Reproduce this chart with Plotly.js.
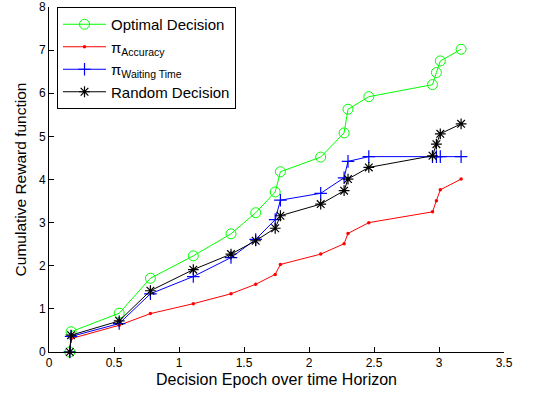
<!DOCTYPE html>
<html>
<head>
<meta charset="utf-8">
<script src="https://cdn.plot.ly/plotly-3.0.1.min.js"></script>
<style>
html,body{margin:0;padding:0;background:#fff;}
#chart{width:537px;height:396px;}
</style>
</head>
<body>
<div id="chart"></div>
<script>
// Decision epochs (shared by all series)
const epochs = [0.16, 0.17, 0.54, 0.78, 1.11, 1.40, 1.59, 1.74, 1.78, 2.09, 2.27, 2.30, 2.46, 2.95, 2.98, 3.01, 3.17];
const optimalDecision = [0, 0.47, 0.90, 1.71, 2.23, 2.74, 3.23, 3.71, 4.18, 4.52, 5.08, 5.63, 5.92, 6.20, 6.48, 6.75, 7.02];
const piAccuracy = [0, 0.31, 0.62, 0.89, 1.12, 1.35, 1.57, 1.80, 2.03, 2.27, 2.51, 2.75, 3.00, 3.25, 3.51, 3.76, 4.01];
const piWaitingTime = [0, 0.36, 0.66, 1.35, 1.75, 2.19, 2.61, 3.07, 3.52, 3.68, 4.04, 4.42, 4.53, 4.53, 4.53, 4.53, 4.53];
const randomDecision = [0, 0.39, 0.72, 1.42, 1.91, 2.27, 2.58, 2.87, 3.16, 3.43, 3.74, 4.01, 4.28, 4.55, 4.82, 5.06, 5.29];
const seriesNames = ['Optimal Decision', 'π<sub>Accuracy</sub>', 'π<sub>Waiting Time</sub>', 'Random Decision'];
const xTicks = [0, 0.5, 1, 1.5, 2, 2.5, 3, 3.5];
const yTicks = [0, 1, 2, 3, 4, 5, 6, 7, 8];

const font = 'Liberation Sans, Arial, Helvetica, sans-serif';

const traces = [
  {x: epochs, y: optimalDecision, name: seriesNames[0], mode: 'lines+markers',
   line: {color: '#00ff00', width: 1},
   marker: {symbol: 'circle-open', size: 10, color: '#00ff00', line: {color: '#00ff00', width: 1}}},
  {x: epochs, y: piAccuracy, name: seriesNames[1], mode: 'lines+markers',
   line: {color: '#ff0000', width: 1},
   marker: {symbol: 'circle', size: 3.5, color: '#ff0000'}},
  {x: epochs, y: piWaitingTime, name: seriesNames[2], mode: 'lines+markers',
   line: {color: '#0000ff', width: 1},
   marker: {symbol: 'cross-thin-open', size: 9, color: '#0000ff', line: {color: '#0000ff', width: 1.2}}},
  {x: epochs, y: randomDecision, name: seriesNames[3], mode: 'lines+markers',
   line: {color: '#000000', width: 1},
   marker: {symbol: 'asterisk-open', size: 9, color: '#000000', line: {color: '#000000', width: 1.2}}}
].map(t => Object.assign(t, {cliponaxis: false}));

const layout = {
  width: 537, height: 396,
  margin: {l: 49, r: 33, t: 7, b: 44},
  paper_bgcolor: '#ffffff', plot_bgcolor: '#ffffff',
  font: {family: font, size: 12, color: '#000'},
  showlegend: true,
  legend: {x: 0.0176, y: 1, xanchor: 'left', yanchor: 'top',
    bgcolor: '#ffffff', bordercolor: '#000000', borderwidth: 1,
    itemwidth: 43,
    font: {family: font, size: 15, color: '#000'}, tracegroupgap: 0},
  xaxis: {range: [0, 3.5], tickvals: xTicks, ticktext: xTicks.map(String),
    showline: true, linecolor: '#000', linewidth: 1, mirror: false,
    ticks: 'inside', ticklen: 5, tickcolor: '#000', tickwidth: 1,
    showgrid: false, zeroline: false,
    tickfont: {family: font, size: 12, color: '#000'},
    title: {text: 'Decision Epoch over time Horizon', font: {family: font, size: 16, color: '#000'}, standoff: 4}},
  yaxis: {range: [0, 8], tickvals: yTicks, ticktext: yTicks.map(String),
    showline: true, linecolor: '#000', linewidth: 1, mirror: false,
    ticks: 'inside', ticklen: 5, tickcolor: '#000', tickwidth: 1,
    showgrid: false, zeroline: false,
    tickfont: {family: font, size: 12, color: '#000'},
    title: {text: 'Cumulative Reward function', font: {family: font, size: 15.5, color: '#000'}, standoff: 8}}
};

Plotly.newPlot('chart', traces, layout, {displayModeBar: false, staticPlot: true});
</script>
</body>
</html>
